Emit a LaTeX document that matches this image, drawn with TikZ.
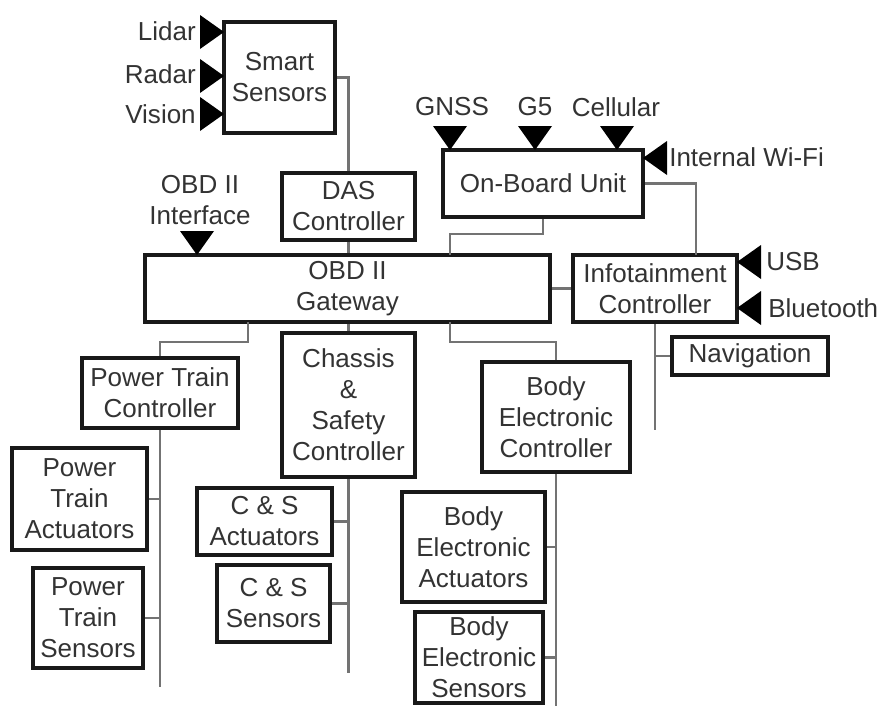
\documentclass[tikz,border=0pt]{standalone}
\usepackage{fontspec}
\setmainfont{Liberation Sans}
\usetikzlibrary{calc}

\begin{document}
\begin{tikzpicture}[x=0.025cm,y=-0.025cm,
  ecu/.style={draw=black!90,line width=2.6pt,fill=white,inner sep=0pt,align=center,
    text=black!80,font=\fontsize{18.5}{22}\selectfont},
  lbl/.style={inner sep=0pt,align=center,text=black!80,font=\fontsize{18.5}{22}\selectfont},
  bus/.style={draw=black!55,line width=1.8pt}]
  \def\px{0.025cm}
  \def\antright#1#2{\fill[black] (#1,#2) -- ++(-24,-17) -- ++(0,34) -- cycle;}
  \def\antleft#1#2{\fill[black] (#1,#2) -- ++(24,-17) -- ++(0,34) -- cycle;}
  \def\antdown#1#2{\fill[black] (#1,#2) -- ++(-17,-24) -- ++(34,0) -- cycle;}
  \useasboundingbox (0,0) rectangle (883,706);
  % top row
  \node[ecu,minimum width=111*\px,minimum height=111*\px] (smart) at (279.5,77.5) {Smart\\Sensors};
  \node[ecu,minimum width=133*\px,minimum height=67*\px] (das) at (348.5,206.5) {DAS\\Controller};
  \node[ecu,minimum width=200*\px,minimum height=67*\px] (obu) at (543,183.5) {On-Board Unit};
  % gateway row
  \node[ecu,minimum width=405*\px,minimum height=67*\px] (gw) at (347.5,288.5) {OBD II\\Gateway};
  \node[ecu,minimum width=164*\px,minimum height=67*\px] (info) at (655,288.5) {Infotainment\\Controller};
  \node[ecu,minimum width=156*\px,minimum height=38*\px] (nav) at (750,356) {Navigation};
  % domain controllers
  \node[ecu,minimum width=156*\px,minimum height=70*\px] (ptc) at (160,393) {Power Train\\Controller};
  \node[ecu,minimum width=133*\px,minimum height=144*\px] (csc) at (348.5,405) {Chassis\\\&\\Safety\\Controller};
  \node[ecu,minimum width=148*\px,minimum height=110*\px] (bec) at (556,417) {Body\\Electronic\\Controller};
  % actuators and sensors
  \node[ecu,minimum width=135*\px,minimum height=102*\px] (pta) at (79.5,499) {Power\\Train\\Actuators};
  \node[ecu,minimum width=110*\px,minimum height=100*\px] (pts) at (88,618) {Power\\Train\\Sensors};
  \node[ecu,minimum width=135*\px,minimum height=67*\px] (csa) at (264.5,521.5) {C \& S\\Actuators};
  \node[ecu,minimum width=113*\px,minimum height=77*\px] (css) at (273.5,603.5) {C \& S\\Sensors};
  \node[ecu,minimum width=143*\px,minimum height=110*\px] (bea) at (473.5,547) {Body\\Electronic\\Actuators};
  \node[ecu,minimum width=128*\px,minimum height=91*\px] (bes) at (479,657.5) {Body\\Electronic\\Sensors};
  % external interfaces
  \node[lbl,anchor=east] (lidar) at (196,31) {Lidar};
  \node[lbl,anchor=east] (radar) at (196,74) {Radar};
  \node[lbl,anchor=east] (vision) at (196,114) {Vision};
  \node[lbl] (obdif) at (200,200) {OBD II\\Interface};
  \node[lbl] (gnss) at (452,107) {GNSS};
  \node[lbl] (g5) at (535,107) {G5};
  \node[lbl] (cell) at (616,107) {Cellular};
  \node[lbl,anchor=west] (wifi) at (669,157) {Internal Wi-Fi};
  \node[lbl,anchor=west] (usb) at (766,262) {USB};
  \node[lbl,anchor=west] (bt) at (768,308) {Bluetooth};
  \antright{224}{32}
  \antright{224}{76}
  \antright{224}{114}
  \antdown{197}{255}
  \antdown{450}{150}
  \antdown{535}{150}
  \antdown{617}{150}
  \antleft{643}{158}
  \antleft{737}{262}
  \antleft{737}{308}
  % bus ends and taps
  \coordinate (gwobu) at (450,255);
  \coordinate (infotap) at (696,255);
  \coordinate (gwpt) at (248,322);
  \coordinate (gwbe) at (450,322);
  \coordinate (infoend) at (655,430);
  \coordinate (ptend) at (160,687);
  \coordinate (csend) at (348.5,673);
  \coordinate (beend) at (556,706);
  % connectors
  \draw[bus] (smart.east) -| (das.north);
  \draw[bus] (das.south) -- (das.south |- gw.north);
  \draw[bus] (obu.south) -- ++(0,15) -| (gwobu);
  \draw[bus] (obu.east) -| (infotap);
  \draw[bus] (gw.east) -- (info.west);
  \draw[bus] (info.south) -- (infoend);
  \draw[bus] (nav.west) -- (nav.west -| info.south);
  \draw[bus] (gwpt) -- ++(0,20) -| (ptc.north);
  \draw[bus] (csc.north |- gw.south) -- (csc.north);
  \draw[bus] (gwbe) -- ++(0,20) -| (bec.north);
  \draw[bus] (ptc.south) -- (ptend);
  \draw[bus] (pta.east) -- (pta.east -| ptc.south);
  \draw[bus] (pts.east) -- (pts.east -| ptc.south);
  \draw[bus] (csc.south) -- (csend);
  \draw[bus] (csa.east) -- (csa.east -| csc.south);
  \draw[bus] (css.east) -- (css.east -| csc.south);
  \draw[bus] (bec.south) -- (beend);
  \draw[bus] (bea.east) -- (bea.east -| bec.south);
  \draw[bus] (bes.east) -- (bes.east -| bec.south);
\end{tikzpicture}
\end{document}
